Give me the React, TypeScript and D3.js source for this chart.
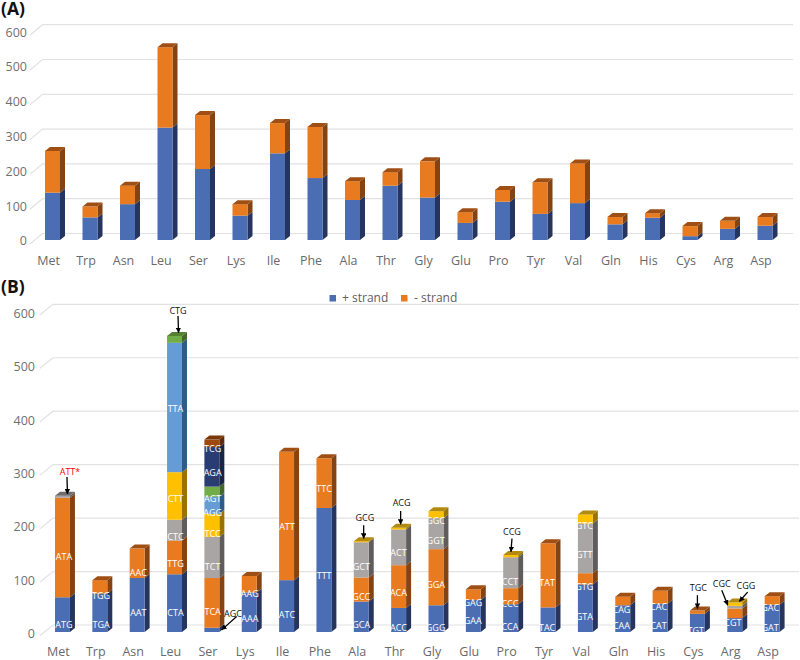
import React from "react";
import * as d3 from "d3";

const aminoAcids = ["Met","Trp","Asn","Leu","Ser","Lys","Ile","Phe","Ala","Thr","Gly","Glu","Pro","Tyr","Val","Gln","His","Cys","Arg","Asp"];
const ticks = [0,100,200,300,400,500,600];
const legendNames = ["+ strand","- strand"];

const plusStrand = [136,65,103,323,204,70,249,178,115,156,122,49,110,75,106,45,64,11,32,41];
const minusStrand = [120,31,53,231,155,33,87,147,54,39,104,31,34,91,114,21,13,29,23,25];

// Panel B: stacked series, one value and one codon per amino acid
const s1Values = [65,72,101,108,8,74,97,232,57,45,50,60,52,46,89,50,53,34,26,51];
const s2Values = [186,25,55,63,93,31,240,93,45,80,105,20,30,120,21,16,24,6,18,16];
const s3Values = [4,0,0,39,77,0,0,0,66,67,58,0,58,0,93,0,0,0,5,0];
const s4Values = [0,0,0,89,43,0,0,0,2,3,13,0,4,0,17,0,0,0,6,0];
const s5Values = [0,0,0,242,32,0,0,0,0,0,0,0,0,0,0,0,0,0,0,0];
const s6Values = [0,0,0,13,19,0,0,0,0,0,0,0,0,0,0,0,0,0,0,0];
const s7Values = [0,0,0,0,74,0,0,0,0,0,0,0,0,0,0,0,0,0,0,0];
const s8Values = [0,0,0,0,14,0,0,0,0,0,0,0,0,0,0,0,0,0,0,0];

const s1Codons = ["ATG","TGA","AAT","CTA","","AAA","ATC","TTT","GCA","ACC","GGG","GAA","CCA","TAC","GTA","CAA","CAT","TGT","CGT","GAT"];
const s2Codons = ["ATA","TGG","AAC","TTG","TCA","AAG","ATT","TTC","GCC","ACA","GGA","GAG","CCC","TAT","GTG","CAG","CAC","","","GAC"];
const s3Codons = ["","","","CTC","TCT","","","","GCT","ACT","GGT","","CCT","","GTT","","","","",""];
const s4Codons = ["","","","CTT","TCC","","","","","","GGC","","","","GTC","","","","",""];
const s5Codons = ["","","","TTA","AGG","","","","","","","","","","","","","","",""];
const s6Codons = ["","","","","AGT","","","","","","","","","","","","","","",""];
const s7Codons = ["","","","","AGA","","","","","","","","","","","","","","",""];
const s8Codons = ["","","","","TCG","","","","","","","","","","","","","","",""];

// Value at which each codon's label sits
const s1LabelAt = [12,12,34,34,0,23,31,104,12,7,7,20,9,6,27,10,11,0,16,6];
const s2LabelAt = [140,67,109,127,37,70,196,267,64,71,86,54,52,91,83,40,46,0,0,44];
const s3LabelAt = [0,0,0,176,120,0,0,0,120,147,170,0,93,0,143,0,0,0,0,0];
const s4LabelAt = [0,0,0,248,183,0,0,0,0,0,206,0,0,0,198,0,0,0,0,0];
const s5LabelAt = [0,0,0,416,221,0,0,0,0,0,0,0,0,0,0,0,0,0,0,0];
const s6LabelAt = [0,0,0,0,248,0,0,0,0,0,0,0,0,0,0,0,0,0,0,0];
const s7LabelAt = [0,0,0,0,296,0,0,0,0,0,0,0,0,0,0,0,0,0,0,0];
const s8LabelAt = [0,0,0,0,342,0,0,0,0,0,0,0,0,0,0,0,0,0,0,0];

const calloutCodons = ["ATT*","CTG","AGC","GCG","ACG","CCG","TGC","CGC","CGG"];
const calloutAminoAcids = ["Met","Leu","Ser","Ala","Thr","Pro","Cys","Arg","Arg"];
const calloutValues = [258,560,4,175,201.5,150,44,50,57];

// layout only: [tip dx, tail dx, tail dy, text dx, text dy]
const calloutLayout = [
  [5,-0.5,-17,2.5,-21.3],[4,-0.5,-16.7,-0.5,-20.7],[9.8,15,-13.3,11.3,-15],
  [2.4,0,-13.3,1.3,-20.3],[2,0,-13.3,1,-20.3],[0.3,1,-13.4,1,-19.7],
  [0,0,-13.3,1,-20],[-7,-6,-15,-6,-20.7],[4.5,8.4,-9.4,6.7,-14.7],
];

const FONT = "'Open Sans', sans-serif";
const palette = [
  { front: "#4A6DB3", side: "#26355F", top: "#2E4272" },
  { front: "#E87A20", side: "#844313", top: "#A04F14" },
  { front: "#A9A5A5", side: "#5E5C5C", top: "#6E6C6C" },
  { front: "#FFC000", side: "#997300", top: "#B38A10" },
  { front: "#669CD6", side: "#2E5C87", top: "#3D6E9E" },
  { front: "#70AD47", side: "#43682B", top: "#55802F" },
  { front: "#2A3D72", side: "#182547", top: "#1E2E58" },
  { front: "#9E480E", side: "#5F2B08", top: "#7A380A" },
];
const DX = 5, DY = 4;

type Spec = {
  x0: number; step: number; base: number; pxPerUnit: number; gridLift: number;
  gridLeft: number; gridRight: number; gridDrop: number; gridOut: number; tickRight: number; tickDy: number; catY: number;
};

function makeScales(s: Spec) {
  const x = d3.scaleBand<string>().domain(aminoAcids)
    .range([s.x0 - 0.3 * s.step, s.x0 - 0.3 * s.step + 20 * s.step])
    .paddingInner(0.6).paddingOuter(0.3);
  const y = d3.scaleLinear().domain([0, 600]).range([s.base, s.base - 600 * s.pxPerUnit]);
  return { x, y };
}

function Frame({ s }: { s: Spec }) {
  const { x, y } = makeScales(s);
  return (
    <g>
      {ticks.map((t) => {
        const gy = y(t) - s.gridLift;
        return (
          <g key={t}>
            <path d={`M${s.gridLeft - s.gridOut},${gy + s.gridDrop}L${s.gridLeft},${gy}L${s.gridRight},${gy}`} fill="none" stroke="#E2E2E2" strokeWidth={1.2} />
            <text x={s.tickRight} y={y(t) + s.tickDy} textAnchor="end" dominantBaseline="middle" fontFamily={FONT} fontSize={12.5} fill="#707070">{t}</text>
          </g>
        );
      })}
      {aminoAcids.map((a) => (
        <text key={a} x={x(a)! + x.bandwidth() / 2 - 4} y={s.catY} textAnchor="middle" dominantBaseline="middle" fontFamily={FONT} fontSize={12.5} fill="#6A6A6A">{a}</text>
      ))}
    </g>
  );
}

function StackedBars({ s, series }: { s: Spec; series: number[][] }) {
  const { x, y } = makeScales(s);
  const keys = series.map((_, i) => i);
  const rows = aminoAcids.map((_, i) => keys.map((k) => series[k][i]));
  const stacked = d3.stack<number[], number>().keys(keys).value((r, k) => r[k])(rows);
  const w = x.bandwidth();
  return (
    <g>
      {aminoAcids.map((a, i) => {
        const left = x(a)!;
        const live = stacked.filter((layer) => layer[i][1] > layer[i][0]);
        const last = live[live.length - 1];
        const topY = y(last[i][1]);
        return (
          <g key={a}>
            {live.map((layer) => {
              const c = palette[layer.key as unknown as number];
              const y0 = y(layer[i][0]), y1 = y(layer[i][1]);
              return (
                <path key={layer.key} d={`M${left + w},${y0}L${left + w + DX},${y0 - DY}L${left + w + DX},${y1 - DY}L${left + w},${y1}Z`} fill={c.side} />
              );
            })}
            {live.map((layer) => {
              const c = palette[layer.key as unknown as number];
              const y0 = y(layer[i][0]), y1 = y(layer[i][1]);
              return <rect key={layer.key} x={left} y={y1} width={w} height={y0 - y1} fill={c.front} />;
            })}
            <path d={`M${left},${topY}L${left + DX},${topY - DY}L${left + w + DX},${topY - DY}L${left + w},${topY}Z`} fill={palette[last.key as unknown as number].top} />
          </g>
        );
      })}
    </g>
  );
}

const specA: Spec = { x0: 45, step: 37.5, base: 240, pxPerUnit: 0.348, gridLift: 6.5, gridLeft: 42.5, gridRight: 793, gridDrop: 10.5, gridOut: 12.5, tickRight: 27, tickDy: 2, catY: 262 };
const specB: Spec = { x0: 55, step: 37.35, base: 632, pxPerUnit: 0.5345, gridLift: 7, gridLeft: 53, gridRight: 799, gridDrop: 10.5, gridOut: 13, tickRight: 35, tickDy: 3, catY: 653 };

const seriesA = [plusStrand, minusStrand];
const seriesB = [s1Values, s2Values, s3Values, s4Values, s5Values, s6Values, s7Values, s8Values];
const codonsB = [s1Codons, s2Codons, s3Codons, s4Codons, s5Codons, s6Codons, s7Codons, s8Codons];
const labelAtB = [s1LabelAt, s2LabelAt, s3LabelAt, s4LabelAt, s5LabelAt, s6LabelAt, s7LabelAt, s8LabelAt];

export default function App() {
  const b = makeScales(specB);
  const shift = d3.scaleLinear().domain([0, 19]).range([1.5, -2]);
  return (
    <svg width={800} height={660} viewBox="0 0 800 660" style={{ position: "absolute", left: 0, top: 0, background: "#fff" }}>
      <defs>
        <marker id="tip" viewBox="0 0 6 6" refX="5.6" refY="3" markerWidth="4.2" markerHeight="4.2" orient="auto">
          <path d="M0,0L6,3L0,6Z" fill="#000" />
        </marker>
      </defs>
      <text x={1} y={15} fontFamily={FONT} fontWeight={700} fontSize={17.5} fill="#111">(A)</text>
      <text x={1} y={293} fontFamily={FONT} fontWeight={700} fontSize={17.5} fill="#111">(B)</text>

      <Frame s={specA} />
      <StackedBars s={specA} series={seriesA} />

      <rect x={329.5} y={295} width={6.5} height={6.5} fill={palette[0].front} />
      <text x={342} y={299} dominantBaseline="middle" fontFamily={FONT} fontSize={12} fill="#5E5E5E">{legendNames[0]}</text>
      <rect x={401} y={295} width={6.5} height={6.5} fill={palette[1].front} />
      <text x={414} y={299} dominantBaseline="middle" fontFamily={FONT} fontSize={12} fill="#5E5E5E">{legendNames[1]}</text>

      <Frame s={specB} />
      <StackedBars s={specB} series={seriesB} />

      {codonsB.map((codons, k) =>
        codons.map((c, i) =>
          c ? (
            <text key={`${k}-${i}`} x={b.x(aminoAcids[i])! + b.x.bandwidth() / 2 + shift(i)} y={b.y(labelAtB[k][i])} textAnchor="middle" dominantBaseline="middle" fontFamily={FONT} fontSize={9} fill="#fff">{c}</text>
          ) : null
        )
      )}

      {calloutCodons.map((c, i) => {
        const [tipDx, tailDx, tailDy, textDx, textDy] = calloutLayout[i];
        const tipX = b.x(calloutAminoAcids[i])! + b.x.bandwidth() / 2 + tipDx;
        const tipY = b.y(calloutValues[i]);
        return (
          <g key={c}>
            <line x1={tipX + tailDx} y1={tipY + tailDy} x2={tipX} y2={tipY} stroke="#000" strokeWidth={1.3} markerEnd="url(#tip)" />
            <text x={tipX + textDx} y={tipY + textDy} textAnchor="middle" dominantBaseline="middle" fontFamily={FONT} fontSize={9} fill={c === "ATT*" ? "#FF0000" : "#111"}>{c}</text>
          </g>
        );
      })}
    </svg>
  );
}
